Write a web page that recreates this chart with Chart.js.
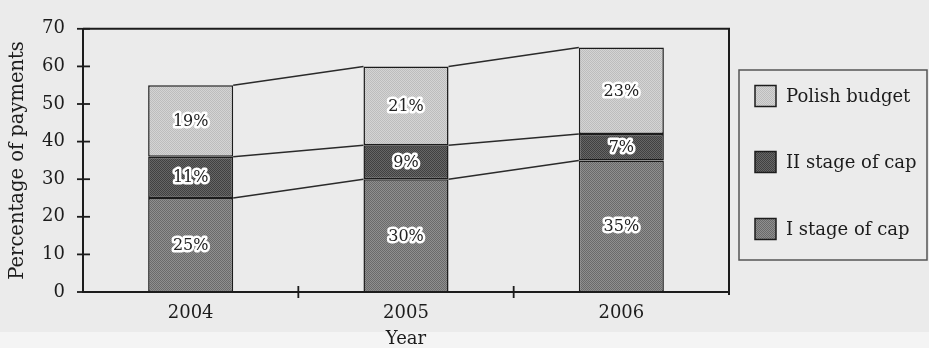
<!DOCTYPE html>
<html><head><meta charset="utf-8">
<script src="https://cdn.jsdelivr.net/npm/chart.js@4.4.0/dist/chart.umd.min.js"></script>
<style>html,body{margin:0;padding:0;background:#ebebeb}#wrap{width:929px;height:348px;position:relative}</style>
</head><body><div id="wrap"><canvas id="c" width="929" height="348"></canvas></div>
<script>
const years = ['2004', '2005', '2006'];
const stage1 = [25, 30, 35];
const stage2 = [11, 9, 7];
const budget = [19, 21, 23];
const seriesNames = ['I stage of cap', 'II stage of cap', 'Polish budget'];
const yMin = 0, yMax = 70, yStep = 10;

const FONT = '"DejaVu Serif", serif';
const INK = '#1c1c1c';

function makePattern(a, b) {
  const p = document.createElement('canvas');
  p.width = 2; p.height = 2;
  const g = p.getContext('2d');
  g.fillStyle = a; g.fillRect(0, 0, 2, 2);
  g.fillStyle = b; g.fillRect(0, 0, 1, 1); g.fillRect(1, 1, 1, 1);
  return g.createPattern(p, 'repeat');
}
const ctx = document.getElementById('c').getContext('2d');
const fills = [
  makePattern('#8f8f8f', '#6a6a6a'),
  makePattern('#666666', '#414141'),
  makePattern('#d4d4d4', '#bdbdbd')
];

const decor = {
  id: 'decor',
  beforeDraw(chart) {
    const c = chart.ctx;
    c.save();
    c.fillStyle = '#ebebeb';
    c.fillRect(0, 0, chart.width, chart.height);
    c.fillStyle = '#f4f4f4';
    c.fillRect(0, 332, chart.width, chart.height - 332);
    c.restore();
  },
  beforeDatasetsDraw(chart) {
    const c = chart.ctx;
    const metas = chart.data.datasets.map((d, i) => chart.getDatasetMeta(i));
    c.save();
    c.strokeStyle = '#2a2a2a';
    c.lineWidth = 1.5;
    for (let j = 0; j < years.length - 1; j++) {
      for (let i = 0; i < metas.length; i++) {
        const a = metas[i].data[j], b = metas[i].data[j + 1];
        c.beginPath();
        c.moveTo(a.x + a.width / 2, a.y);
        c.lineTo(b.x - b.width / 2, b.y);
        c.stroke();
      }
    }
    c.restore();
  },
  afterDatasetsDraw(chart) {
    const c = chart.ctx;
    const ca = chart.chartArea;
    const xs = chart.scales.x, ys = chart.scales.y;
    c.save();
    c.strokeStyle = INK;
    c.lineWidth = 2;
    c.beginPath();
    c.moveTo(ca.left, ca.top);
    c.lineTo(ca.right, ca.top);
    c.lineTo(ca.right, ca.bottom + 3);
    c.stroke();
    c.lineWidth = 1.8;
    for (let v = yMin; v <= yMax; v += yStep) {
      const py = ys.getPixelForValue(v);
      c.beginPath();
      c.moveTo(ca.left - 6, py);
      c.lineTo(ca.left + 7, py);
      c.stroke();
    }
    for (let j = 0; j < years.length - 1; j++) {
      const px = (xs.getPixelForValue(j) + xs.getPixelForValue(j + 1)) / 2;
      c.beginPath();
      c.moveTo(px, ca.bottom - 6);
      c.lineTo(px, ca.bottom + 6);
      c.stroke();
    }
    c.font = '16px ' + FONT;
    c.textAlign = 'center';
    c.textBaseline = 'middle';
    c.lineJoin = 'round';
    chart.data.datasets.forEach((d, i) => {
      const meta = chart.getDatasetMeta(i);
      meta.data.forEach((el, j) => {
        const cy = (el.y + el.base) / 2;
        const t = d.data[j] + '%';
        c.strokeStyle = '#ffffff';
        c.lineWidth = 5;
        c.strokeText(t, el.x, cy + 1);
        c.fillStyle = '#222';
        c.fillText(t, el.x, cy + 1);
      });
    });
    c.restore();
  },
  afterDraw(chart) {
    const c = chart.ctx;
    c.save();
    const bx = 739, by = 70, bw = 188, bh = 190;
    c.strokeStyle = '#555';
    c.lineWidth = 1.5;
    c.strokeRect(bx, by, bw, bh);
    const rowsY = [96, 162, 229];
    const order = [2, 1, 0];
    c.font = '18px ' + FONT;
    c.textBaseline = 'middle';
    c.textAlign = 'left';
    order.forEach((di, k) => {
      const ds = chart.data.datasets[di];
      const cy = rowsY[k];
      c.fillStyle = ds.backgroundColor;
      c.fillRect(755, cy - 10.5, 21, 21);
      c.strokeStyle = INK;
      c.lineWidth = 1.5;
      c.strokeRect(755, cy - 10.5, 21, 21);
      c.fillStyle = INK;
      c.fillText(ds.label, 786, cy + 1);
    });
    c.restore();
  }
};

new Chart(ctx, {
  type: 'bar',
  data: {
    labels: years,
    datasets: [
      { label: seriesNames[0], data: stage1, backgroundColor: fills[0] },
      { label: seriesNames[1], data: stage2, backgroundColor: fills[1] },
      { label: seriesNames[2], data: budget, backgroundColor: fills[2] }
    ].map(d => Object.assign(d, {
      borderColor: INK, borderWidth: 1.5, borderSkipped: false,
      barPercentage: 0.395, categoryPercentage: 1
    }))
  },
  options: {
    responsive: false,
    animation: false,
    devicePixelRatio: 1,
    layout: { padding: { top: 17, right: 200, left: 0, bottom: 0 } },
    plugins: { legend: { display: false }, tooltip: { enabled: false } },
    scales: {
      x: {
        stacked: true,
        grid: { display: false, drawTicks: false },
        border: { display: true, color: INK, width: 2 },
        ticks: { color: INK, font: { family: FONT, size: 18 }, padding: 11 },
        title: { display: true, text: 'Year', color: INK, font: { family: FONT, size: 18, lineHeight: 1 }, padding: { top: 0, bottom: 0 } },
        afterFit(s) { s.height = 56; }
      },
      y: {
        stacked: true,
        min: yMin, max: yMax,
        grid: { display: false, drawTicks: false },
        border: { display: true, color: INK, width: 2 },
        ticks: { stepSize: yStep, color: INK, font: { family: FONT, size: 18 }, padding: 18 },
        title: { display: true, text: 'Percentage of payments', color: INK, font: { family: FONT, size: 19.5 }, padding: { top: 6, bottom: 0 } },
        afterFit(s) { s.width = 83; }
      }
    }
  },
  plugins: [decor]
});
</script></body></html>
